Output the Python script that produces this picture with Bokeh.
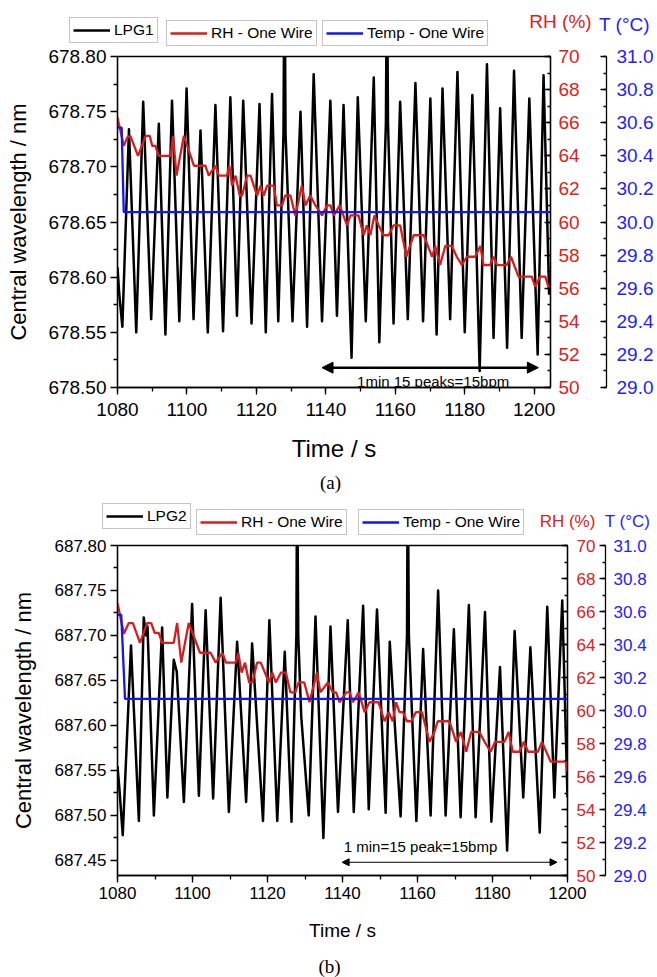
from bokeh.plotting import figure
from bokeh.models import (Range1d, LinearAxis, SingleIntervalTicker, FixedTicker,
                          NumeralTickFormatter, Legend, LegendItem, Label, Arrow, NormalHead)
from bokeh.embed import file_html
from bokeh.resources import INLINE

FONT = "Liberation Sans"
SERIF = "Liberation Serif"
LINE_BLACK = "#000000"
LINE_RED = "#D61E1E"
LINE_BLUE = "#1414F5"
TXT_RED = "#E0201B"
TXT_BLUE = "#2222FF"

# ---------------- Panel (a) data ----------------
lpg1_t = [1080.0, 1080.5, 1081.4, 1083.3, 1085.4, 1087.4, 1089.7, 1091.9, 1093.8, 1095.7,
          1097.8, 1099.9, 1101.9, 1103.9, 1106.0, 1108.2, 1110.4, 1112.5, 1114.4, 1116.2,
          1118.6, 1120.9, 1122.7, 1124.5, 1126.3, 1127.8, 1128.1, 1128.4, 1130.4, 1132.7,
          1134.6, 1136.5, 1138.9, 1141.3, 1143.2, 1145.1, 1147.4, 1149.2, 1151.5, 1153.8,
          1155.4, 1157.3, 1157.6, 1157.9, 1159.5, 1161.4, 1163.6, 1165.8, 1168.0, 1170.1,
          1171.9, 1173.6, 1175.8, 1177.9, 1180.0, 1182.2, 1184.3, 1186.4, 1188.3, 1190.2,
          1192.2, 1194.2, 1196.4, 1198.6, 1201.0, 1202.7, 1204.3, 1204.7]
lpg1_nm = [678.609, 678.585, 678.555, 678.734, 678.550, 678.759, 678.562, 678.739, 678.548, 678.760,
           678.560, 678.771, 678.562, 678.733, 678.550, 678.756, 678.551, 678.763, 678.565, 678.760,
           678.558, 678.757, 678.550, 678.766, 678.560, 678.730, 678.900, 678.730, 678.560, 678.750,
           678.555, 678.784, 678.560, 678.760, 678.565, 678.756, 678.527, 678.763, 678.560, 678.781,
           678.541, 678.740, 678.900, 678.740, 678.558, 678.759, 678.562, 678.776, 678.560, 678.762,
           678.548, 678.771, 678.562, 678.786, 678.550, 678.765, 678.515, 678.793, 678.545, 678.753,
           678.536, 678.787, 678.545, 678.762, 678.530, 678.783, 678.585, 678.600]

rh_a_t = [1080.0, 1081.8, 1082.8, 1083.7, 1085.9, 1088.1, 1089.3, 1090.0, 1090.9, 1091.9,
          1095.3, 1096.0, 1097.0, 1099.1, 1102.0, 1105.3, 1106.3, 1108.2, 1109.2, 1111.6,
          1112.2, 1113.0, 1114.0, 1115.2, 1115.9, 1117.3, 1118.3, 1120.2, 1121.2, 1122.1,
          1123.1, 1125.0, 1125.9, 1127.4, 1128.3, 1129.8, 1131.2, 1133.1, 1134.1, 1135.5,
          1137.0, 1138.9, 1140.3, 1141.3, 1142.3, 1144.0, 1146.1, 1147.1, 1149.4, 1150.9,
          1151.8, 1152.8, 1154.0, 1155.2, 1156.6, 1158.1, 1159.5, 1161.4, 1163.2, 1165.3,
          1168.2, 1170.6, 1171.5, 1172.9, 1174.4, 1176.3, 1177.7, 1179.2, 1180.6, 1183.0,
          1184.5, 1185.4, 1187.3, 1188.3, 1189.3, 1192.1, 1193.3, 1195.5, 1199.3, 1200.3,
          1201.7, 1203.2, 1204.1, 1204.7]
rh_a = [66.3, 64.6, 65.1, 65.2, 64.0, 65.2, 65.2, 64.6, 64.6, 64.0,
        64.0, 65.2, 62.8, 65.2, 63.4, 63.4, 62.8, 63.4, 62.8, 62.8,
        63.4, 62.2, 62.8, 61.6, 61.6, 62.8, 62.8, 61.6, 62.2, 61.6,
        62.2, 62.2, 61.0, 61.0, 61.6, 61.6, 60.4, 62.2, 61.0, 61.6,
        61.0, 60.4, 61.0, 61.0, 60.4, 61.0, 59.8, 60.4, 60.4, 59.2,
        59.8, 59.2, 60.4, 59.8, 59.2, 59.2, 59.8, 59.8, 57.9, 59.2,
        59.2, 57.9, 58.55, 57.4, 58.55, 58.55, 57.9, 57.4, 57.9, 57.9,
        58.55, 57.4, 57.4, 57.9, 57.4, 57.4, 57.9, 56.7, 56.7, 56.1,
        56.7, 56.7, 56.1, 56.1]

temp_a_t = [1080.0, 1081.2, 1081.8, 1204.7]
temp_a = [30.57, 30.57, 30.06, 30.06]

# ---------------- Panel (b) data ----------------
lpg2_t = [1080.0, 1080.5, 1081.4, 1083.6, 1085.7, 1087.0, 1087.6, 1088.0, 1089.7, 1091.9,
          1093.3, 1095.0, 1095.8, 1097.7, 1099.9, 1101.7, 1103.5, 1105.5, 1107.5, 1109.7,
          1111.9, 1114.3, 1115.9, 1118.8, 1120.5, 1122.6, 1124.6, 1126.4, 1127.7, 1127.9,
          1128.2, 1129.0, 1131.0, 1132.8, 1134.9, 1136.8, 1138.8, 1141.4, 1143.0, 1145.5,
          1147.0, 1149.2, 1151.5, 1152.6, 1153.5, 1155.5, 1157.2, 1157.4, 1157.7, 1159.7,
          1161.5, 1163.5, 1165.5, 1167.5, 1169.7, 1171.5, 1173.7, 1175.5, 1178.0, 1179.7,
          1182.0, 1183.9, 1185.9, 1188.2, 1190.1, 1192.6, 1194.6, 1196.5, 1198.6, 1200.0]
lpg2_nm = [687.555, 687.530, 687.478, 687.689, 687.494, 687.720, 687.700, 687.710, 687.500, 687.709,
           687.520, 687.673, 687.660, 687.515, 687.735, 687.522, 687.728, 687.519, 687.742, 687.504,
           687.693, 687.515, 687.691, 687.494, 687.717, 687.494, 687.682, 687.493, 687.700, 687.900,
           687.700, 687.610, 687.500, 687.721, 687.475, 687.710, 687.504, 687.717, 687.504, 687.733,
           687.507, 687.729, 687.503, 687.693, 687.630, 687.499, 687.700, 687.900, 687.700, 687.494,
           687.685, 687.500, 687.750, 687.500, 687.707, 687.498, 687.734, 687.498, 687.726, 687.493,
           687.665, 687.461, 687.705, 687.520, 687.687, 687.481, 687.732, 687.520, 687.739, 687.520]

rh_b_t = [1080.0, 1081.7, 1083.0, 1084.1, 1086.0, 1087.9, 1089.0, 1089.9, 1091.0, 1091.9,
          1095.0, 1095.9, 1097.0, 1099.0, 1102.0, 1104.8, 1106.2, 1108.0, 1108.9, 1111.5,
          1112.2, 1113.1, 1114.0, 1115.1, 1116.0, 1117.2, 1118.2, 1120.4, 1121.3, 1122.2,
          1123.6, 1124.9, 1126.1, 1127.4, 1128.3, 1129.8, 1131.2, 1133.2, 1134.1, 1136.1,
          1137.4, 1138.3, 1139.2, 1141.0, 1141.9, 1142.8, 1144.3, 1145.9, 1147.2, 1149.6,
          1151.2, 1152.3, 1153.4, 1154.3, 1155.2, 1156.1, 1157.2, 1158.3, 1159.6, 1161.2,
          1163.2, 1164.5, 1165.4, 1168.5, 1170.3, 1171.6, 1173.0, 1174.3, 1176.5, 1177.9,
          1179.5, 1180.7, 1183.2, 1184.3, 1185.4, 1187.2, 1188.4, 1189.5, 1192.1, 1193.2,
          1195.5, 1199.6, 1200.0]
rh_b = [66.5, 64.65, 65.3, 65.3, 64.1, 65.3, 65.3, 64.7, 64.7, 64.1,
        64.1, 65.3, 62.9, 65.3, 63.5, 63.5, 62.9, 63.5, 62.9, 62.9,
        63.5, 62.3, 62.9, 61.7, 61.7, 62.9, 62.9, 61.7, 62.3, 61.7,
        62.3, 62.3, 61.1, 61.1, 61.7, 61.7, 60.5, 62.3, 61.1, 61.7,
        61.1, 61.1, 60.5, 61.1, 61.1, 60.5, 61.1, 59.9, 60.5, 60.5,
        59.35, 59.9, 59.35, 60.5, 59.9, 59.9, 59.35, 59.35, 59.9, 59.9,
        58.1, 58.7, 59.35, 59.35, 58.1, 58.7, 57.5, 58.7, 58.7, 58.1,
        57.5, 58.1, 58.1, 58.7, 57.5, 57.5, 58.1, 57.5, 57.5, 58.1,
        56.9, 56.9, 56.3]

temp_b_t = [1080.0, 1081.0, 1082.0, 1200.0]
temp_b = [30.58, 30.58, 30.07, 30.07]

# tick values
wl_ticks_a = [678.50, 678.55, 678.60, 678.65, 678.70, 678.75, 678.80]
wl_minor_a = [678.525, 678.575, 678.625, 678.675, 678.725, 678.775]
wl_ticks_b = [687.45, 687.50, 687.55, 687.60, 687.65, 687.70, 687.75, 687.80]
wl_minor_b = [687.475, 687.525, 687.575, 687.625, 687.675, 687.725, 687.775]

# annotation values
arrow_a = dict(x0=1138.9, x1=1201.2, y=678.518)
note_a = dict(x=1170.9, y=678.505, text="1min 15 peaks=15bpm")
arrow_b = dict(x0=1139.9, x1=1197.2, y=687.448)
note_b = dict(x=1160.8, y=687.465, text="1 min=15 peak=15bmp")

W = 657


def style_axis(ax, tick_size, label_size, label_color="black"):
    ax.axis_line_color = "black"
    ax.axis_line_width = 1.3
    ax.major_tick_line_color = "black"
    ax.major_tick_line_width = 1.3
    ax.minor_tick_line_color = "black"
    ax.minor_tick_line_width = 1.3
    ax.major_label_text_font = FONT
    ax.major_label_text_font_size = tick_size
    ax.major_label_text_color = label_color
    ax.axis_label_text_font = FONT
    ax.axis_label_text_font_style = "normal"
    ax.axis_label_text_font_size = label_size
    ax.axis_label_text_color = "black"


def add_legend(p, renderer, text, loc, font_size):
    leg = Legend(items=[LegendItem(label=text, renderers=[renderer])], location=loc,
                 orientation="vertical", padding=3, margin=0, spacing=0,
                 glyph_width=37, glyph_height=14, label_height=14, label_standoff=4,
                 label_text_font=FONT, label_text_font_size=font_size,
                 label_text_color="black", border_line_color="#8a8a8a",
                 border_line_width=1, background_fill_color="white",
                 background_fill_alpha=1.0)
    p.add_layout(leg)


def blank_fig(h):
    f = figure(width=W, height=h, output_backend="svg", toolbar_location=None,
               x_range=Range1d(0, W), y_range=Range1d(0, h),
               x_axis_location=None, y_axis_location=None, min_border=0)
    f.grid.visible = False
    f.outline_line_color = None
    f.background_fill_color = "white"
    f.border_fill_color = "white"
    return f


def add_text(f, x, y, text, size, color, font=FONT):
    f.add_layout(Label(x=x, y=y, x_units="screen", y_units="screen", text=text,
                       text_align="center", text_baseline="middle", text_font=font,
                       text_font_size=size, text_color=color))


def make_header(h, series, names, locs, rh_xy, t_xy, title_font, cap=None):
    # legend samples: the series are drawn here too, but lie outside this strip's x range
    f = blank_fig(h)
    colors = [LINE_BLACK, LINE_RED, LINE_BLUE]
    for (xs, ys), name, loc, col in zip(series, names, locs, colors):
        r = f.line(xs, ys, line_color=col, line_width=2.5)
        add_legend(f, r, name, loc, "15.5px")
    add_text(f, rh_xy[0], rh_xy[1], "RH (%)", title_font, TXT_RED)
    add_text(f, t_xy[0], t_xy[1], "T (°C)", title_font, TXT_BLUE)
    if cap is not None:
        add_text(f, cap[0], cap[1], cap[2], "19px", "black", SERIF)
    return f


def make_panel(cfg):
    p = figure(width=W, height=cfg["height"], output_backend="svg", toolbar_location=None,
               x_range=Range1d(*cfg["xr"]), y_range=Range1d(*cfg["yr"]),
               min_border_left=117, min_border_right=cfg["mbr"],
               min_border_top=cfg["mbt"], min_border_bottom=cfg["mbb"])
    p.extra_y_ranges = {"rh": Range1d(50, 70), "t": Range1d(29, 31)}
    p.grid.visible = False
    p.outline_line_color = "black"
    p.outline_line_width = 1.3
    p.background_fill_color = "white"
    p.border_fill_color = "white"

    xa = p.xaxis[0]
    xa.ticker = SingleIntervalTicker(interval=20, num_minor_ticks=2)
    xa.axis_label = "Time / s"
    style_axis(xa, cfg["tick"], cfg["xlabel"])
    xa.major_tick_out = 7
    xa.major_tick_in = 0
    xa.minor_tick_out = 4
    xa.minor_tick_in = 0
    xa.major_label_standoff = cfg["x_std"]
    xa.axis_label_standoff = cfg["x_lstd"]

    ya = p.yaxis[0]
    ya.ticker = FixedTicker(ticks=cfg["yticks"], minor_ticks=cfg["yminor"])
    ya.formatter = NumeralTickFormatter(format="0.00")
    ya.axis_label = "Central wavelength / nm"
    style_axis(ya, cfg["tick"], "22px")
    ya.major_tick_out = 7
    ya.major_tick_in = 0
    ya.minor_tick_out = 4
    ya.minor_tick_in = 0
    ya.major_label_standoff = 4
    ya.axis_label_standoff = cfg["y_lstd"]

    rha = LinearAxis(y_range_name="rh",
                     ticker=SingleIntervalTicker(interval=2, num_minor_ticks=2),
                     formatter=NumeralTickFormatter(format="0"))
    style_axis(rha, cfg["rtick"], cfg["rh_pad_font"], TXT_RED)
    rha.major_tick_in = 6
    rha.major_tick_out = 0
    rha.minor_tick_in = 3
    rha.minor_tick_out = 0
    rha.major_label_standoff = cfg["rh_std"]
    rha.axis_label = " "
    rha.axis_label_standoff = cfg["rh_pad_std"]
    p.add_layout(rha, "right")

    ta = LinearAxis(y_range_name="t",
                    ticker=SingleIntervalTicker(interval=0.2, num_minor_ticks=2),
                    formatter=NumeralTickFormatter(format="0.0"))
    style_axis(ta, cfg["rtick"], "10px", TXT_BLUE)
    ta.major_tick_in = 6
    ta.major_tick_out = 0
    ta.minor_tick_in = 3
    ta.minor_tick_out = 0
    ta.major_label_standoff = cfg["t_std"]
    p.add_layout(ta, "right")

    p.line(cfg["lpg_t"], cfg["lpg_v"], line_color=LINE_BLACK, line_width=2.5, line_join="round")
    p.line(cfg["rh_t"], cfg["rh_v"], y_range_name="rh", line_color=LINE_RED, line_width=2.3)
    p.line(cfg["tp_t"], cfg["tp_v"], y_range_name="t", line_color=LINE_BLUE, line_width=2.3)

    ar = cfg["arrow"]
    p.add_layout(Arrow(x_start=ar["x0"], y_start=ar["y"], x_end=ar["x1"], y_end=ar["y"],
                       line_color="black", line_width=cfg["arrow_w"],
                       start=NormalHead(size=cfg["head"], fill_color="black", line_color="black"),
                       end=NormalHead(size=cfg["head"], fill_color="black", line_color="black")))
    nt = cfg["note"]
    p.add_layout(Label(x=nt["x"], y=nt["y"], text=nt["text"], text_align="center",
                       text_baseline="middle", text_font=FONT, text_font_size="15px",
                       text_color="black"))
    return p


cfg_a = dict(height=424, xr=(1080, 1204.7), yr=(678.50, 678.80), mbr=107, mbt=9, mbb=84,
             tick="19px", rtick="19px", xlabel="24px", x_std=8, x_lstd=16, y_lstd=14,
             yticks=wl_ticks_a, yminor=wl_minor_a,
             rh_std=8, rh_pad_font="15px", rh_pad_std=4, t_std=10,
             lpg_t=lpg1_t, lpg_v=lpg1_nm, rh_t=rh_a_t, rh_v=rh_a, tp_t=temp_a_t, tp_v=temp_a,
             arrow=arrow_a, arrow_w=2.5, head=11, note=note_a)

cfg_b = dict(height=415, xr=(1080, 1200), yr=(687.4333, 687.80), mbr=90, mbt=10, mbb=75,
             tick="17px", rtick="17px", xlabel="19px", x_std=4, x_lstd=18, y_lstd=16,
             yticks=wl_ticks_b, yminor=wl_minor_b,
             rh_std=9, rh_pad_font="1px", rh_pad_std=3, t_std=8,
             lpg_t=lpg2_t, lpg_v=lpg2_nm, rh_t=rh_b_t, rh_v=rh_b, tp_t=temp_b_t, tp_v=temp_b,
             arrow=arrow_b, arrow_w=1.0, head=7, note=note_b)

head1 = make_header(47, [(lpg1_t, lpg1_nm), (rh_a_t, rh_a), (temp_a_t, temp_a)],
                    ["LPG1", "RH - One Wire", "Temp - One Wire"],
                    [(69, 4), (166, 1), (322, 1)], (560, 26), (624, 23), "19px")
main1 = make_panel(cfg_a)
head2 = make_header(64, [(lpg2_t, lpg2_nm), (rh_b_t, rh_b), (temp_b_t, temp_b)],
                    ["LPG2", "RH - One Wire", "Temp - One Wire"],
                    [(102, 6), (196, 0), (358, 0)], (567, 14), (627, 14), "17px",
                    cap=(330, 53, "(a)"))
main2 = make_panel(cfg_b)
foot2 = blank_fig(27)
add_text(foot2, 329, 11, "(b)", "19px", "black", SERIF)

open("out.html", "w").write(file_html([head1, main1, head2, main2, foot2], INLINE))
